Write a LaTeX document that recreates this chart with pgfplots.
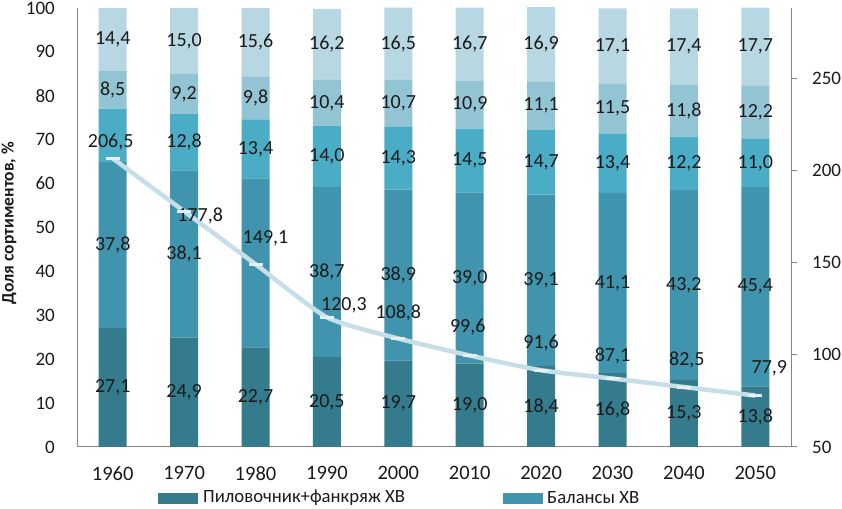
\documentclass[border=0pt]{standalone}
\usepackage{fontspec}
\setmainfont{Carlito}
\usepackage{pgfplots}
\pgfplotsset{compat=1.18}
\definecolor{c1}{HTML}{347B8D}
\definecolor{c2}{HTML}{4094AD}
\definecolor{c3}{HTML}{4BACC6}
\definecolor{c4}{HTML}{93C4D4}
\definecolor{c5}{HTML}{B7D7E3}
\definecolor{lnc}{HTML}{C5DEE7}
\definecolor{axgray}{HTML}{868686}
\definecolor{txt}{HTML}{1A1A1A}
\newcommand{\lf}{\fontsize{20bp}{23bp}\selectfont}
\newcommand{\barlab}[3]{\node[font=\lf, text=txt, inner sep=0pt] at (axis cs:#1,#2) {#3};}
\newcommand{\linelab}[5]{\node[font=\lf, text=txt, inner sep=0pt, xshift=#3bp, yshift=#4bp] at (axis cs:#1,#2) {#5};}
\begin{document}
\begin{tikzpicture}[x=1bp,y=1bp]
\useasboundingbox (0,0) rectangle (842,509);
\begin{axis}[
  at={(77bp,62bp)}, anchor=south west,
  scale only axis, width=714bp, height=439bp,
  ybar stacked, bar width=28bp,
  xmin=-0.5, xmax=9.5, ymin=0, ymax=100,
  xtick={0,...,9},
  xticklabels={1960,1970,1980,1990,2000,2010,2020,2030,2040,2050},
  ytick={0,10,...,100},
  axis x line*=bottom, axis y line*=left,
  axis line style={draw=axgray, line width=1bp, -},
  major tick length=0pt, tick style={draw=none},
  /pgf/number format/assume math mode=true,
  tick label style={text=txt, inner sep=0pt},
  yticklabel style={font=\fontsize{19bp}{22bp}\selectfont},
  xticklabel style={font=\fontsize{20.5bp}{23bp}\selectfont},
  yticklabel shift=22bp,
  xticklabel shift=19bp,
  ylabel={\fontsize{17.5bp}{20bp}\selectfont\bfseries Доля сортиментов, \%},
  ylabel style={at={(axis description cs:-0.0952,0.51)}, anchor=center, inner sep=0pt, text=txt},
  clip=true,
]
\addplot[fill=c1, draw=none] coordinates {(0,27.1) (1,24.9) (2,22.7) (3,20.5) (4,19.7) (5,19.0) (6,18.4) (7,16.8) (8,15.3) (9,13.8)};
\addplot[fill=c2, draw=none] coordinates {(0,37.8) (1,38.1) (2,38.5) (3,38.7) (4,38.9) (5,39.0) (6,39.1) (7,41.1) (8,43.2) (9,45.4)};
\addplot[fill=c3, draw=none] coordinates {(0,12.2) (1,12.8) (2,13.4) (3,14.0) (4,14.3) (5,14.5) (6,14.7) (7,13.4) (8,12.2) (9,11.0)};
\addplot[fill=c4, draw=none] coordinates {(0,8.5) (1,9.2) (2,9.8) (3,10.4) (4,10.7) (5,10.9) (6,11.1) (7,11.5) (8,11.8) (9,12.2)};
\addplot[fill=c5, draw=none] coordinates {(0,14.4) (1,15.0) (2,15.6) (3,16.2) (4,16.5) (5,16.7) (6,16.9) (7,17.1) (8,17.4) (9,17.7)};
\end{axis}
\begin{axis}[
  at={(77bp,62bp)}, anchor=south west,
  scale only axis, width=714bp, height=439bp,
  xmin=-0.5, xmax=9.5, ymin=50, ymax=288,
  axis x line=none, axis y line*=right,
  axis line style={draw=axgray, line width=1bp, -},
  ytick={50,100,150,200,250},
  tick align=outside, major tick length=6bp,
  ytick style={draw=axgray, line width=1bp},
  /pgf/number format/assume math mode=true,
  tick label style={font=\fontsize{19bp}{22bp}\selectfont, text=txt, inner sep=0pt},
  yticklabel shift=15bp,
  clip=false,
]
\addplot[lnc, line width=4.5bp, smooth, tension=0.35, mark=-, mark size=7bp,
  mark options={draw=lnc!45!white, line width=3bp}]
  coordinates {(0,206.5) (1,177.8) (2,149.1) (3,120.3) (4,108.8) (5,99.6) (6,91.6) (7,87.1) (8,82.5) (9,77.9)};
\linelab{0}{206.5}{-2}{16}{206,5}
\linelab{1}{177.8}{16}{-5}{177,8}
\linelab{2}{149.1}{10}{26}{149,1}
\linelab{3}{120.3}{17}{12}{120,3}
\linelab{4}{108.8}{0}{26}{108,8}
\linelab{5}{99.6}{-2}{28}{99,6}
\linelab{6}{91.6}{0}{27}{91,6}
\linelab{7}{87.1}{0}{23}{87,1}
\linelab{8}{82.5}{3}{27}{82,5}
\linelab{9}{77.9}{14}{27}{77,9}
\end{axis}
\begin{axis}[
  at={(77bp,62bp)}, anchor=south west,
  scale only axis, width=714bp, height=439bp,
  xmin=-0.5, xmax=9.5, ymin=0, ymax=100,
  hide axis, clip=false,
]
\barlab{0}{13.55}{27,1} \barlab{0}{46.0}{37,8} \barlab{0}{81.35}{8,5} \barlab{0}{92.8}{14,4}
\barlab{1}{12.45}{24,9} \barlab{1}{43.95}{38,1} \barlab{1}{69.4}{12,8} \barlab{1}{80.4}{9,2} \barlab{1}{92.5}{15,0}
\barlab{2}{11.35}{22,7} \barlab{2}{67.9}{13,4} \barlab{2}{79.5}{9,8} \barlab{2}{92.2}{15,6}
\barlab{3}{10.25}{20,5} \barlab{3}{39.85}{38,7} \barlab{3}{66.2}{14,0} \barlab{3}{78.4}{10,4} \barlab{3}{91.7}{16,2}
\barlab{4}{9.85}{19,7} \barlab{4}{39.15}{38,9} \barlab{4}{65.75}{14,3} \barlab{4}{78.25}{10,7} \barlab{4}{91.85}{16,5}
\barlab{5}{9.5}{19,0} \barlab{5}{38.5}{39,0} \barlab{5}{65.25}{14,5} \barlab{5}{77.95}{10,9} \barlab{5}{91.75}{16,7}
\barlab{6}{9.2}{18,4} \barlab{6}{37.95}{39,1} \barlab{6}{64.85}{14,7} \barlab{6}{77.75}{11,1} \barlab{6}{91.75}{16,9}
\barlab{7}{8.4}{16,8} \barlab{7}{37.35}{41,1} \barlab{7}{64.6}{13,4} \barlab{7}{77.05}{11,5} \barlab{7}{91.35}{17,1}
\barlab{8}{7.65}{15,3} \barlab{8}{36.9}{43,2} \barlab{8}{64.6}{12,2} \barlab{8}{76.6}{11,8} \barlab{8}{91.2}{17,4}
\barlab{9}{6.9}{13,8} \barlab{9}{36.5}{45,4} \barlab{9}{64.7}{11,0} \barlab{9}{76.3}{12,2} \barlab{9}{91.25}{17,7}
\end{axis}
% legend
\fill[c1] (158,5) rectangle (198,16);
\node[font=\fontsize{18.7bp}{22bp}\selectfont, text=txt, anchor=west, inner sep=0pt] at (203,11) {Пиловочник+фанкряж ХВ};
\fill[c2] (503,5) rectangle (543,16);
\node[font=\fontsize{18.7bp}{22bp}\selectfont, text=txt, anchor=west, inner sep=0pt] at (547,11) {Балансы ХВ};
\end{tikzpicture}
\end{document}
